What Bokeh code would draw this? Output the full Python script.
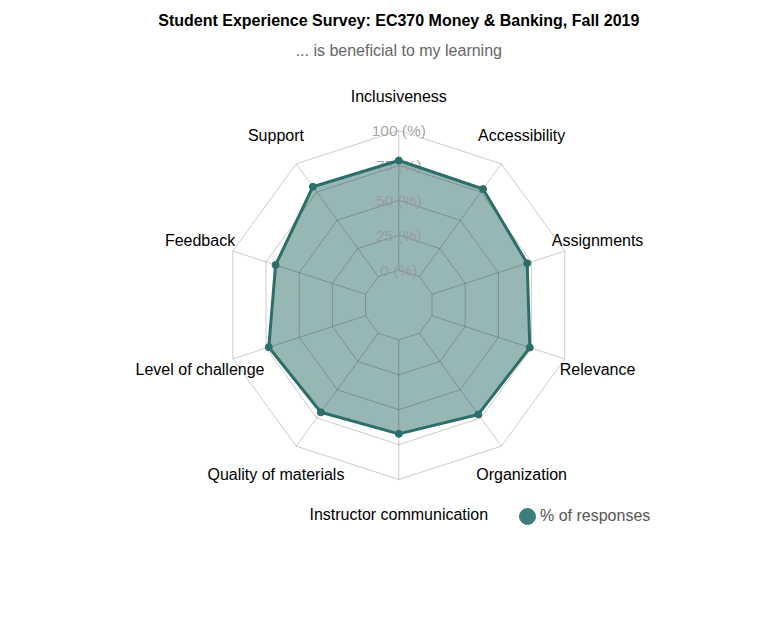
import numpy as np
from bokeh.plotting import figure
from bokeh.models import Range1d, ColumnDataSource, Legend, LegendItem, Label
from bokeh.embed import file_html
from bokeh.resources import INLINE
from bokeh.core.properties import value

# ---- data ----
categories = ["Inclusiveness", "Accessibility", "Assignments", "Relevance", "Organization",
              "Instructor communication", "Quality of materials", "Level of challenge",
              "Feedback", "Support"]
responses = [78.5, 77.7, 71.7, 73.7, 71.9, 67.3, 70.0, 72.9, 67.8, 79.7]
ring_values = [0, 25, 50, 75, 100]
ring_labels = ["0 (%)", "25 (%)", "50 (%)", "75 (%)", "100 (%)"]
series_name = "% of responses"
title_text = "Student Experience Survey: EC370 Money & Banking, Fall 2019"
subtitle_text = "... is beneficial to my learning"

# ---- layout ----
W, H = 758, 629
CX, CY = 398.3, 304.5      # chart centre (px from left / top)
R = 174.5                  # outer ring radius in px
RMIN, RMAX = -25, 100      # radial scale domain
LABEL_R = 209
FONT = "Liberation Sans"
LINE_COL = "#2d6e6b"

def rad(v):
    return R * (np.asarray(v, dtype=float) - RMIN) / (RMAX - RMIN)

n = len(categories)
theta = np.pi / 2 - 2 * np.pi * np.arange(n) / n
cos_t, sin_t = np.cos(theta), np.sin(theta)

p = figure(width=W, height=H, x_range=Range1d(-CX, W - CX), y_range=Range1d(-(H - CY), CY),
           output_backend="svg", toolbar_location=None, x_axis_type=None, y_axis_type=None,
           min_border=0, outline_line_color=None)
p.grid.visible = False
p.background_fill_color = "white"
p.border_fill_color = "white"

# filled area
r_data = rad(responses)
xs = list(r_data * cos_t)
ys = list(r_data * sin_t)
p.patch(xs, ys, fill_color="#306f6c", fill_alpha=0.5, line_color=None)

# grid rings
ring_xs, ring_ys = [], []
for v in ring_values:
    rv = float(rad(v))
    ring_xs.append(list(rv * cos_t) + [rv * cos_t[0]])
    ring_ys.append(list(rv * sin_t) + [rv * sin_t[0]])
p.multi_line(ring_xs, ring_ys, line_color="black", line_alpha=0.2, line_width=1)

# spokes
r0, r1 = float(rad(ring_values[0])), float(rad(ring_values[-1]))
p.segment(x0=r0 * cos_t, y0=r0 * sin_t, x1=r1 * cos_t, y1=r1 * sin_t,
          line_color="black", line_alpha=0.2, line_width=1)

# ring labels
p.text(x=[0] * len(ring_values), y=list(rad(ring_values)), text=ring_labels,
       text_align="center", text_baseline="middle", text_font=value(FONT),
       text_font_size="15.5px", text_color="#9a9a9a", text_alpha=0.9)

# data line + points
p.line(xs + [xs[0]], ys + [ys[0]], line_color=LINE_COL, line_width=3, line_join="round")
p.scatter(xs, ys, size=7, fill_color=LINE_COL, line_color=LINE_COL)

# category labels
p.text(x=list(LABEL_R * cos_t), y=list(LABEL_R * sin_t), text=categories,
       text_align="center", text_baseline="middle", text_font=value(FONT),
       text_font_size="16px", text_color="black")

# title / subtitle
p.add_layout(Label(x=0, y=CY - 20, text=title_text, text_align="center", text_baseline="middle",
                   text_font=FONT, text_font_size="16px", text_font_style="bold", text_color="black"))
p.add_layout(Label(x=0, y=CY - 50, text=subtitle_text, text_align="center", text_baseline="middle",
                   text_font=FONT, text_font_size="16px", text_color="#666666"))

# legend: swatch (hidden renderer, only its legend glyph shows) + label
leg_src = ColumnDataSource(dict(x=xs, y=ys))
leg_r = p.scatter("x", "y", source=leg_src, size=16, fill_color="#3d7d7a", line_color="#3d7d7a")
leg_r.visible = False
legend_swatch = Legend(items=[LegendItem(label=" ", renderers=[leg_r])],
                       location=(507, 93), orientation="horizontal",
                       padding=0, margin=0, spacing=0, glyph_width=40, glyph_height=40,
                       label_standoff=0, label_height=40, label_width=0,
                       label_text_font=FONT, label_text_font_size="16px",
                       border_line_alpha=0, background_fill_alpha=0, inactive_fill_alpha=0)
p.add_layout(legend_swatch, "center")

txt_r = p.scatter("x", "y", source=leg_src, size=1, fill_alpha=0, line_alpha=0)
txt_r.visible = False
legend_label = Legend(items=[LegendItem(label=series_name, renderers=[txt_r])],
                      location=(539, 93), orientation="horizontal",
                      padding=0, margin=0, spacing=0, glyph_width=1, glyph_height=40,
                      label_standoff=0, label_height=40,
                      label_text_font=FONT, label_text_font_size="16px", label_text_color="#555555",
                      border_line_alpha=0, background_fill_alpha=0, inactive_fill_alpha=0)
p.add_layout(legend_label, "center")

open("out.html", "w").write(file_html(p, INLINE))
